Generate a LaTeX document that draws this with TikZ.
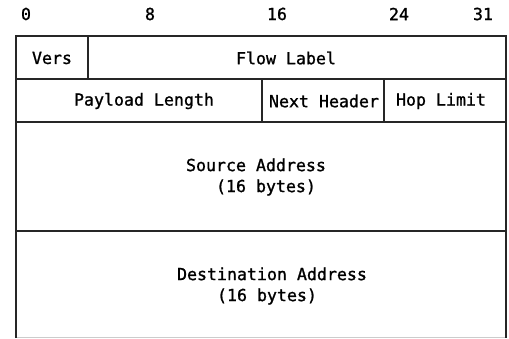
\documentclass[tikz,border=0pt]{standalone}
\usepackage{fontspec}
\newfontfamily\hdrfont{DejaVu Sans Mono}[RawFeature={embolden=1.2}]
\begin{document}
\begin{tikzpicture}[x=1pt,y=-1pt,
  grid/.style={line width=1.6pt, draw=black!85},
  field/.style={font=\hdrfont\fontsize{16.6}{21}\selectfont, inner sep=0pt, align=left},
  bitno/.style={font=\hdrfont\fontsize{16.6}{21}\selectfont, inner sep=0pt}]
  \useasboundingbox (0,0) rectangle (509,338);

  % bit positions
  \node[bitno] (b0)  at (26,14)  {0};
  \node[bitno] (b8)  at (150,14) {8};
  \node[bitno] (b16) at (277,14) {16};
  \node[bitno] (b24) at (399,14) {24};
  \node[bitno] (b31) at (483,14) {31};

  % header frame
  \coordinate (tl) at (16,36);
  \coordinate (tr) at (506,36);
  \coordinate (bl) at (16,338);
  \coordinate (br) at (506,338);
  \draw[grid] (bl) -- (tl) -- (tr) -- (br);
  \draw[grid] (16,79) -- (506,79);
  \draw[grid] (16,122) -- (506,122);
  \draw[grid] (16,231) -- (506,231);
  \draw[grid] (88,36) -- (88,79);
  \draw[grid] (262,79) -- (262,122);
  \draw[grid] (384,79) -- (384,122);
  \draw[line width=0.8pt, black!20] (17,337) -- (505,337);

  % field names
  \node[field] (vers) at (52,58)   {Vers};
  \node[field] (flow) at (286,58)  {Flow Label};
  \node[field] (plen) at (144,101) {Payload Length};
  \node[field] (nxt)  at (324,101) {Next Header};
  \node[field] (hop)  at (441,101) {Hop Limit};
  \node[field] (src)  at (256,177) {Source Address\\\phantom{xxx}(16 bytes)};
  \node[field] (dst)  at (272,286) {Destination Address\\\phantom{xxxx}(16 bytes)};
\end{tikzpicture}
\end{document}
